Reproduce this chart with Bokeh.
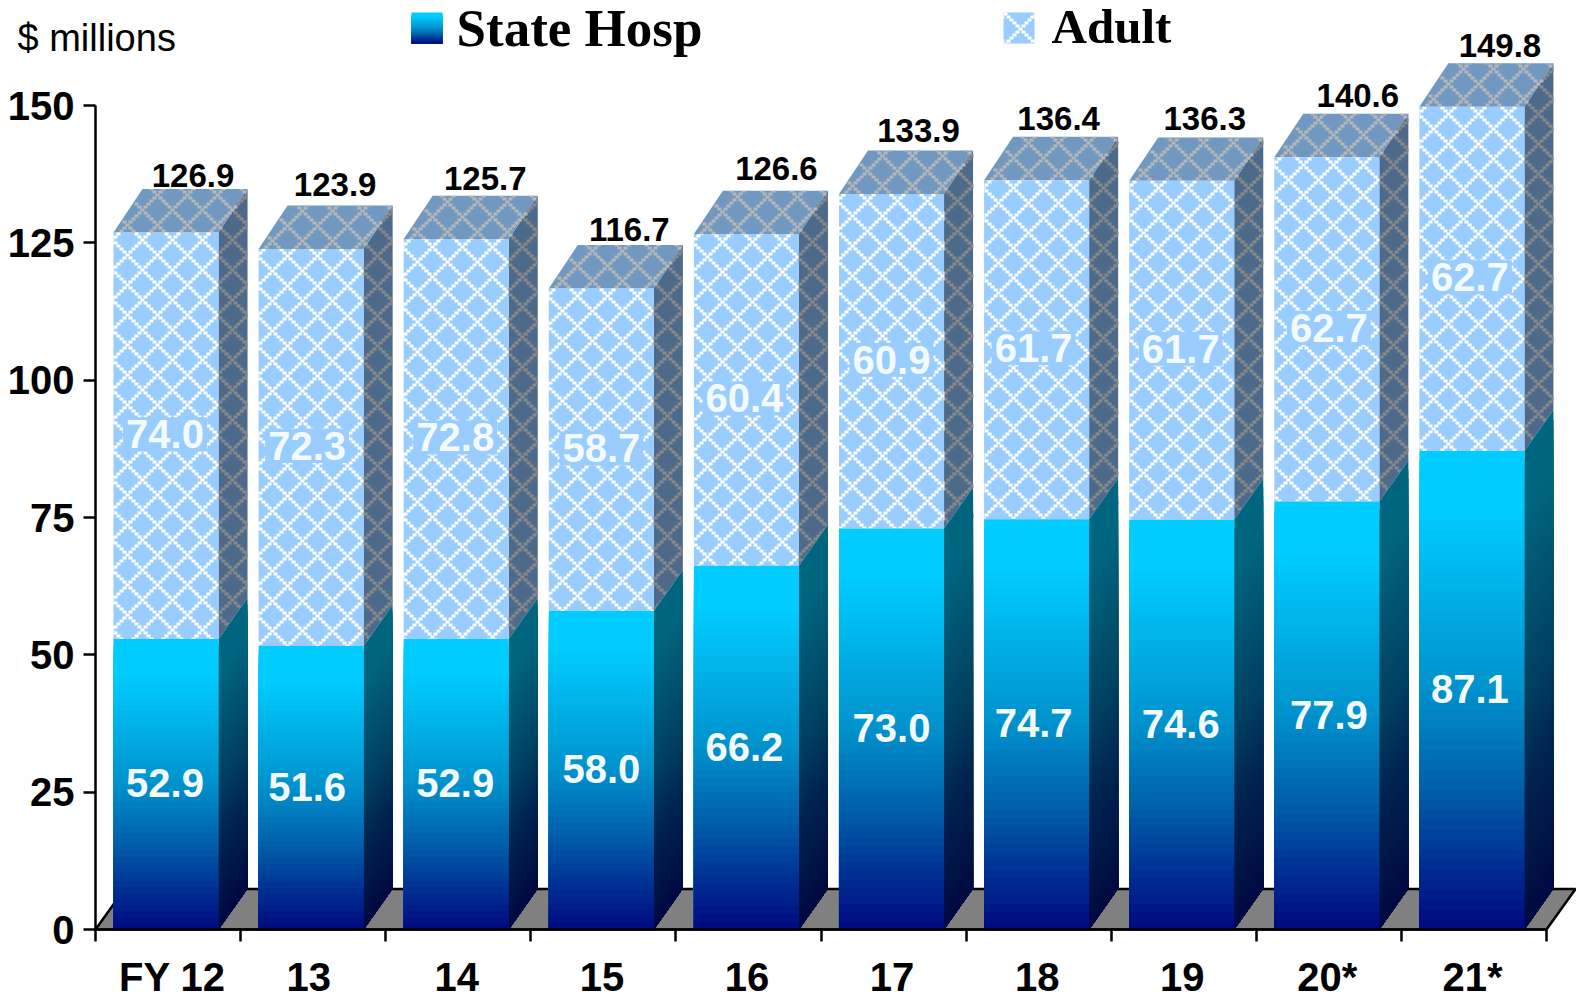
from bokeh.plotting import figure
from bokeh.models import FixedTicker
from bokeh.embed import file_html
from bokeh.resources import INLINE

categories = ["FY 12", "13", "14", "15", "16", "17", "18", "19", "20*", "21*"]
state_hosp = [52.9, 51.6, 52.9, 58.0, 66.2, 73.0, 74.7, 74.6, 77.9, 87.1]
adult = [74.0, 72.3, 72.8, 58.7, 60.4, 60.9, 61.7, 61.7, 62.7, 62.7]
totals = [126.9, 123.9, 125.7, 116.7, 126.6, 133.9, 136.4, 136.3, 140.6, 149.8]
y_ticks = [0, 25, 50, 75, 100, 125, 150]

# small nudges of individual labels, in pixels
total_dx = [27, 24, 29, 28, 30, 27, 22, 23, 31, 28]
total_dy = [14, 21, 17, 16, 22, 20, 18, 19, 18, 18]
inner_dx = [0, -3, 0, 1, -1, 1, -2, 0, 3, -1]
cat_pos = [0.53, 1.47, 2.49, 3.49, 4.49, 5.49, 6.49, 7.49, 8.49, 9.49]

# pixel geometry
X0, PX_X = 95.0, 145.1
Y0, PX_Y = 929.0, 5.493
W, H = 1576, 999
LEFT, WIDTH = 0.124, 0.724
DXP, DYP_TOP, DYP_STATE, DYP_FLOOR = 29.0, 43.4, 41.0, 40.5
DX = DXP / PX_X
DY_TOP = DYP_TOP / PX_Y
DY_STATE = DYP_STATE / PX_Y
DY_FLOOR = DYP_FLOOR / PX_Y

def px_x(v):
    return (v - X0) / PX_X

def px_y(v):
    return (Y0 - v) / PX_Y

def ramp(stops, t):
    t = max(0.0, min(1.0, t))
    for (t0, c0), (t1, c1) in zip(stops, stops[1:]):
        if t <= t1:
            f = (t - t0) / (t1 - t0)
            return "#%02x%02x%02x" % tuple(round(a + (b - a) * f) for a, b in zip(c0, c1))
    return "#%02x%02x%02x" % stops[-1][1]

FRONT = [(0, (0, 8, 128)), (0.3, (0, 95, 170)), (0.5, (0, 145, 204)), (0.88, (0, 204, 255)), (1, (0, 204, 255))]
SIDE = [(0, (0, 8, 64)), (0.3, (0, 36, 80)), (0.5, (0, 64, 96)), (0.88, (0, 102, 128)), (1, (0, 102, 128))]
ARIAL = "Liberation Sans"
SERIF = "Liberation Serif"
N = 48
CELL = 3
BLOCK_W = 4
LAT = 10

p = figure(width=W, height=H, output_backend="svg", toolbar_location=None,
           x_range=(px_x(0), px_x(W)), y_range=(px_y(H), px_y(0)),
           min_border_left=0, min_border_right=0, min_border_top=0, min_border_bottom=0)
p.grid.visible = False
p.outline_line_color = None
p.background_fill_color = "white"

n = len(categories)
p.patch([0, n, n + DX, DX], [0, 0, DY_FLOOR, DY_FLOOR], fill_color="#808080",
        line_color="black", line_width=2.5)


def lattice(x0, x1, y0, y1, cx, cy, inside=None):
    """Stair-step diamond lattice blocks in the pixel box, crossing at (cx, cy)."""
    out = ([], [], [], [])
    umin = int((x0 - cx) // CELL) - 1
    umax = int((x1 - cx) // CELL) + 1
    vmin = int((y0 - cy) // CELL) - 1
    vmax = int((y1 - cy) // CELL) + 1
    for u in range(umin, umax + 1):
        for v in range(vmin, vmax + 1):
            if (u - v) % LAT and (u + v) % LAT:
                continue
            a, b = cx + u * CELL, cy + v * CELL
            if inside is not None and not inside(a + CELL / 2, b + CELL / 2):
                continue
            a0, a1 = max(a, x0), min(a + BLOCK_W, x1)
            b0, b1 = max(b, y0), min(b + CELL, y1)
            if a1 <= a0 or b1 <= b0:
                continue
            out[0].append(px_x(a0)); out[1].append(px_x(a1))
            out[2].append(px_y(b1)); out[3].append(px_y(b0))
    return out


def add(store, cells):
    for s, c in zip(store, cells):
        s.extend(c)


front_c, top_c, side_c = ([], [], [], []), ([], [], [], []), ([], [], [], [])
for i in range(n):
    l, r = i + LEFT, i + LEFT + WIDTH
    s, t = state_hosp[i], totals[i]
    p.patch([r, r + DX, r + DX, r], [s, s + DY_STATE, t + DY_TOP, t],
            fill_color="#4d6a8a", line_color=None)
    p.patch([l, r, r + DX, l + DX], [t, t, t + DY_TOP, t + DY_TOP],
            fill_color="#7098c0", line_color=None)
    p.quad(left=l, right=r, bottom=s, top=t, fill_color="#99ccff", line_color=None)
    lp, rp = round(X0 + PX_X * l), round(X0 + PX_X * r)
    tp, sp = Y0 - PX_Y * t, Y0 - PX_Y * s
    cx, cy = lp + 27, round(tp) + 6
    add(front_c, lattice(lp, rp, tp, sp, cx, cy))

    def in_top(x, y, lp=lp, rp=rp, tp=tp):
        sh = (tp - y) * DXP / DYP_TOP
        return lp + sh <= x <= rp + sh

    add(top_c, lattice(lp, rp + DXP, tp - DYP_TOP, tp, cx, cy, in_top))

    def in_side(x, y, rp=rp, tp=tp):
        return y >= tp - (x - rp) * DYP_TOP / DXP

    add(side_c, lattice(rp, rp + DXP, tp - DYP_TOP, sp, cx, cy, in_side))

for cells, col in ((side_c, "#8a8a8a"), (top_c, "#b8b8b8"), (front_c, "white")):
    p.quad(left=cells[0], right=cells[1], bottom=cells[2], top=cells[3],
           fill_color=col, line_color=None)

for i in range(n):
    l, r = i + LEFT, i + LEFT + WIDTH
    s = state_hosp[i]
    for k in range(N, 0, -1):
        v = s * k / N
        u = (k - 0.5) / N
        p.patch([r, r + DX, r + DX, r], [0, DY_STATE, v + DY_STATE, v],
                fill_color=ramp(SIDE, u), line_color=None)
        p.quad(left=l, right=r, bottom=0, top=v, fill_color=ramp(FRONT, u), line_color=None)

# Labels
cxs = [i + LEFT + WIDTH / 2 for i in range(n)]
fmt = lambda vs: ["%.1f" % v for v in vs]
for i in range(n):
    p.text(x=[cxs[i]], y=[totals[i] + DY_TOP], text=[fmt(totals)[i]],
           x_offset=total_dx[i], y_offset=-total_dy[i], text_font={"value": ARIAL},
           text_font_style="bold", text_font_size="33px", text_color="black",
           text_align="center", text_baseline="middle")
    p.text(x=[cxs[i]], y=[state_hosp[i] / 2], text=[fmt(state_hosp)[i]],
           x_offset=-1 + inner_dx[i], y_offset=-1, text_font={"value": ARIAL},
           text_font_style="bold", text_font_size="40px", text_color="#f4fbff",
           text_align="center", text_baseline="middle")
    p.text(x=[cxs[i]], y=[state_hosp[i] + adult[i] / 2], text=[fmt(adult)[i]],
           x_offset=-1 + inner_dx[i], y_offset=-1.5, text_font={"value": ARIAL},
           text_font_style="bold", text_font_size="40px", text_color="#f4fbff",
           text_align="center", text_baseline="middle",
           background_fill_color="#99ccff", padding=3)

# Legend
for k in range(24, 0, -1):
    p.quad(left=px_x(411), right=px_x(442), bottom=px_y(43), top=px_y(43 - 31 * k / 24),
           fill_color=ramp(FRONT, (k - 0.5) / 24), line_color=None)
p.quad(left=px_x(1003), right=px_x(1034), bottom=px_y(43), top=px_y(12), fill_color="#99ccff",
       line_color=None)
sw = lattice(1003, 1034, 12, 43, 1018, 27)
p.quad(left=sw[0], right=sw[1], bottom=sw[2], top=sw[3], fill_color="white", line_color=None)


def label(txt, x, y, size, font, style):
    p.text(x=[px_x(x)], y=[px_y(y)], text=[txt], text_font={"value": font}, text_font_size=size,
           text_font_style=style, text_color="black", text_baseline="middle", text_align="left")


label("State Hosp", 456, 27, "53px", SERIF, "bold")
label("Adult", 1051, 26, "49px", SERIF, "bold")
label("$ millions", 17, 37, "38px", ARIAL, "normal")

# Axes
ya = p.yaxis[0]
ya.fixed_location = 0
ya.ticker = FixedTicker(ticks=y_ticks)
ya.bounds = (0, 150)
ya.major_tick_in = 0
ya.major_tick_out = 12
ya.minor_tick_line_color = None
ya.axis_line_width = 2.5
ya.major_tick_line_width = 2.5
ya.major_label_text_font = ARIAL
ya.major_label_text_font_style = "bold"
ya.major_label_text_font_size = "40px"
ya.major_label_text_color = "black"
ya.major_label_standoff = 9

xa = p.xaxis[0]
xa.fixed_location = 0
xa.ticker = FixedTicker(ticks=cat_pos, minor_ticks=list(range(n + 1)))
xa.major_label_overrides = dict(zip(cat_pos, categories))
xa.bounds = (0, n)
xa.major_tick_line_color = None
xa.minor_tick_in = 0
xa.minor_tick_out = 12
xa.minor_tick_line_width = 2.5
xa.minor_tick_line_color = "black"
xa.axis_line_width = 2.5
xa.major_label_text_font = ARIAL
xa.major_label_text_font_style = "bold"
xa.major_label_text_font_size = "40px"
xa.major_label_text_color = "black"
xa.major_label_standoff = 13
xa.major_tick_out = 0
xa.major_tick_in = 0

open("out.html", "w").write(file_html(p, INLINE))
